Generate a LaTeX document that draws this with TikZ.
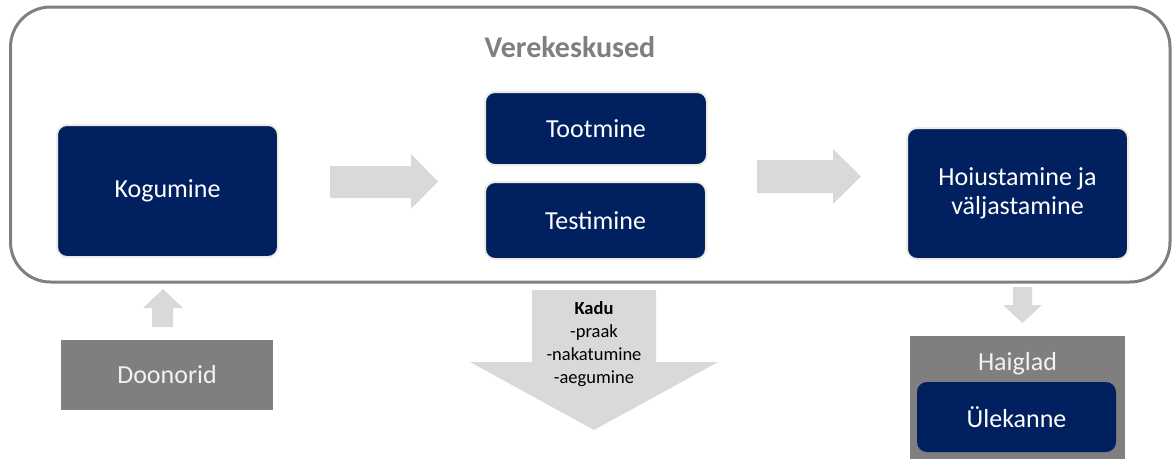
\documentclass[tikz,border=0pt]{standalone}
\usepackage{fontspec}
\setmainfont{Carlito}
\definecolor{navy}{HTML}{002060}
\definecolor{cream}{HTML}{EEECE1}
\definecolor{midgray}{HTML}{7F7F7F}
\definecolor{lightgray}{HTML}{D9D9D9}
\definecolor{offwhite}{HTML}{F2F2F2}
\begin{document}
\begin{tikzpicture}[x=1pt,y=-1pt]
\tikzstyle{stage}=[fill=navy,draw=cream,line width=2pt,rounded corners=10pt,text=white,align=center,font=\fontsize{26}{29}\selectfont]
\tikzstyle{outside}=[fill=midgray,text=offwhite,font=\fontsize{26}{29}\selectfont]
\tikzstyle{blockarrow}=[fill=lightgray]
\useasboundingbox (0,0) rectangle (1173,459);

\draw[midgray,line width=3pt,rounded corners=40pt] (10.5,7) rectangle (1170,282);
\path (570,47) node[text=midgray,font=\bfseries\fontsize{30}{34}\selectfont](centre){Verekeskused};

\path (167.5,191) node[stage,minimum width=221,minimum height=132](kog){Kogumine};
\path (596,128.5) node[stage,minimum width=222,minimum height=73](toot){Tootmine};
\path (595.5,220.5) node[stage,minimum width=221,minimum height=77](test){Testimine};
\path (1017.5,193.5) node[stage,minimum width=221,minimum height=131](hoiu){Hoiustamine ja\\väljastamine};

\fill[blockarrow] (330,166) -- (411,166) -- (411,154) -- (438,181.5) -- (411,209) -- (411,198) -- (330,198) -- cycle;
\fill[blockarrow] (757,160) -- (833,160) -- (833,149) -- (861,176.5) -- (833,204) -- (833,193) -- (757,193) -- cycle;

\path (167,375) node[outside,minimum width=212,minimum height=70](doon){Doonorid};
\fill[blockarrow] (152,327) -- (152,308) -- (143,308) -- (163,289) -- (183,308) -- (173,308) -- (173,327) -- cycle;

\fill[blockarrow] (532,290) -- (656,290) -- (656,362) -- (718,362) -- (594,430) -- (470,362) -- (532,362) -- cycle;
\path (594,344) node[align=center,font=\fontsize{18.5}{23}\selectfont](kadu){\textbf{Kadu}\\-praak\\-nakatumine\\-aegumine};

\fill[blockarrow] (1013,287) -- (1032,287) -- (1032,305) -- (1042,305) -- (1022.5,323) -- (1003,305) -- (1013,305) -- cycle;
\fill[midgray] (910,336) rectangle (1125,459);
\path (1017.5,364) node[text=offwhite,font=\fontsize{26}{29}\selectfont](haig){Haiglad};
\path (1016.5,417) node[stage,line width=0pt,draw=none,minimum width=199,minimum height=70](ulek){Ülekanne};
\end{tikzpicture}
\end{document}
